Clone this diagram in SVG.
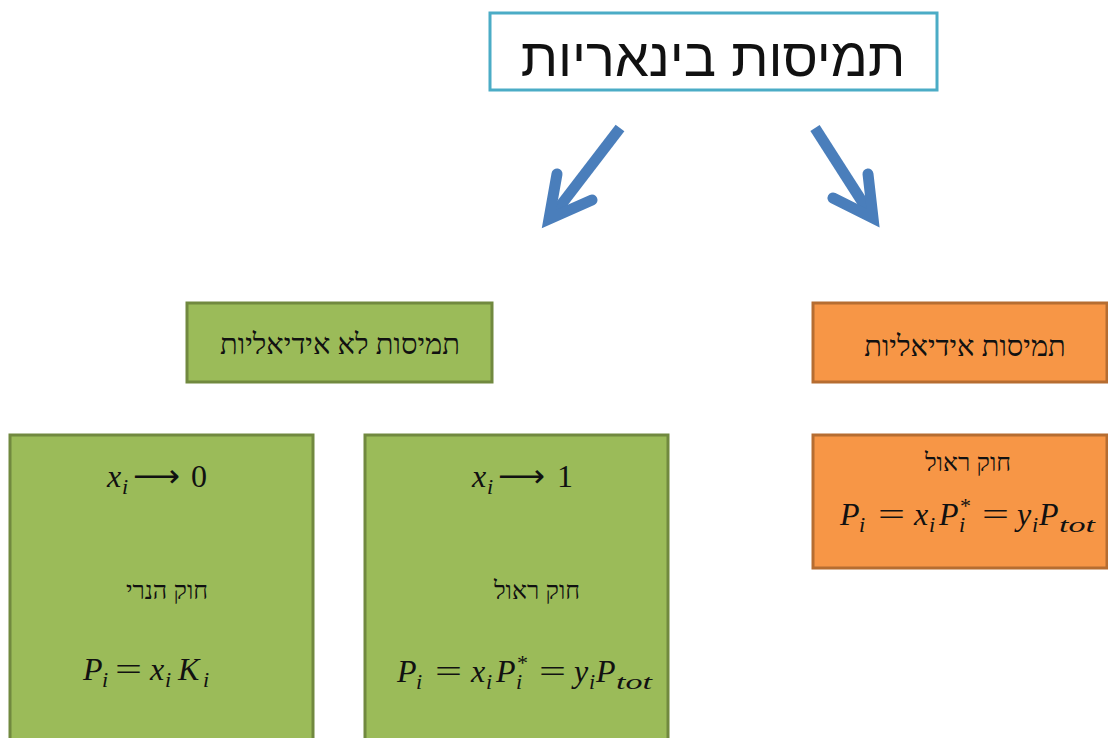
<svg xmlns="http://www.w3.org/2000/svg" width="1108" height="738" viewBox="0 0 1108 738">
<style>
.heb{font-family:"Liberation Serif","Noto Sans",serif;fill:#111;text-anchor:middle}
.m{font-family:"Liberation Serif","DejaVu Serif",serif;font-style:italic;font-size:32px;fill:#111}
.sub{font-size:22px}
.up{font-style:normal}
.green{fill:#9BBB59;stroke:#71893F;stroke-width:3}
.orange{fill:#F79646;stroke:#B66D31;stroke-width:3}
.arr{fill:none;stroke:#4A7EBB;stroke-width:11}
</style>
<rect width="1108" height="738" fill="#fff"/>
<g id="title">
<rect x="490" y="13" width="447" height="77" fill="#fff" stroke="#4BACC6" stroke-width="3"/>
<text x="713" y="76" font-family="Liberation Sans, DejaVu Sans, sans-serif" font-size="54" text-anchor="middle" fill="#111">תמיסות בינאריות</text>
</g>
<g id="connectors">
<line class="arr" x1="620" y1="128" x2="551" y2="218"/>
<polyline class="arr" points="557,174 549,219 592,200" stroke-linecap="round" stroke-linejoin="miter"/>
<line class="arr" x1="815" y1="128" x2="872" y2="217"/>
<polyline class="arr" points="868,174 873,218 833,198" stroke-linecap="round" stroke-linejoin="miter"/>
</g>
<g id="nonideal">
<rect class="green" x="187" y="303" width="305" height="79"/>
<text class="heb" x="340" y="354" font-size="29">תמיסות לא אידיאליות</text>
</g>
<g id="ideal">
<rect class="orange" x="813" y="303" width="294" height="79"/>
<text class="heb" x="965" y="356" font-size="29">תמיסות אידיאליות</text>
</g>
<g id="ideal-raoult">
<rect class="orange" x="813" y="435" width="294" height="133"/>
<text class="heb" x="968" y="471" font-size="25">חוק ראול</text>
<text class="m"><tspan x="840" y="525">P</tspan><tspan class="sub" x="859" y="532">i</tspan><tspan class="up" x="878" y="525" textLength="27" lengthAdjust="spacingAndGlyphs">=</tspan><tspan x="914" y="525">x</tspan><tspan class="sub" x="929" y="532">i</tspan><tspan x="939" y="525">P</tspan><tspan class="sub up" x="960" y="513">*</tspan><tspan class="sub" x="959" y="532">i</tspan><tspan class="up" x="982" y="525" textLength="27" lengthAdjust="spacingAndGlyphs">=</tspan><tspan x="1017" y="525">y</tspan><tspan class="sub" x="1032" y="532">i</tspan><tspan x="1039" y="525">P</tspan><tspan class="sub" x="1059" y="532" textLength="36" lengthAdjust="spacingAndGlyphs">tot</tspan></text>
</g>
<g id="henry">
<rect class="green" x="10" y="435" width="303" height="310"/>
<text class="m"><tspan x="107" y="487">x</tspan><tspan class="sub" x="122" y="494">i</tspan><tspan class="up" x="133" y="487" font-family="DejaVu Sans, sans-serif" textLength="47" lengthAdjust="spacingAndGlyphs">⟶</tspan><tspan class="up" x="191" y="487">0</tspan></text>
<text class="heb" x="167" y="599" font-size="25">חוק הנרי</text>
<text class="m"><tspan x="83" y="680">P</tspan><tspan class="sub" x="102" y="687">i</tspan><tspan class="up" x="115" y="680" textLength="27" lengthAdjust="spacingAndGlyphs">=</tspan><tspan x="150" y="680">x</tspan><tspan class="sub" x="165" y="687">i</tspan><tspan x="178" y="680">K</tspan><tspan class="sub" x="203" y="687">i</tspan></text>
</g>
<g id="raoult">
<rect class="green" x="365" y="435" width="303" height="310"/>
<text class="m"><tspan x="472" y="487">x</tspan><tspan class="sub" x="487" y="494">i</tspan><tspan class="up" x="498" y="487" font-family="DejaVu Sans, sans-serif" textLength="47" lengthAdjust="spacingAndGlyphs">⟶</tspan><tspan class="up" x="557" y="487">1</tspan></text>
<text class="heb" x="537" y="599" font-size="25">חוק ראול</text>
<text class="m" transform="translate(-443,157)"><tspan x="840" y="525">P</tspan><tspan class="sub" x="859" y="532">i</tspan><tspan class="up" x="878" y="525" textLength="27" lengthAdjust="spacingAndGlyphs">=</tspan><tspan x="914" y="525">x</tspan><tspan class="sub" x="929" y="532">i</tspan><tspan x="939" y="525">P</tspan><tspan class="sub up" x="960" y="513">*</tspan><tspan class="sub" x="959" y="532">i</tspan><tspan class="up" x="982" y="525" textLength="27" lengthAdjust="spacingAndGlyphs">=</tspan><tspan x="1017" y="525">y</tspan><tspan class="sub" x="1032" y="532">i</tspan><tspan x="1039" y="525">P</tspan><tspan class="sub" x="1059" y="532" textLength="36" lengthAdjust="spacingAndGlyphs">tot</tspan></text>
</g>
</svg>
